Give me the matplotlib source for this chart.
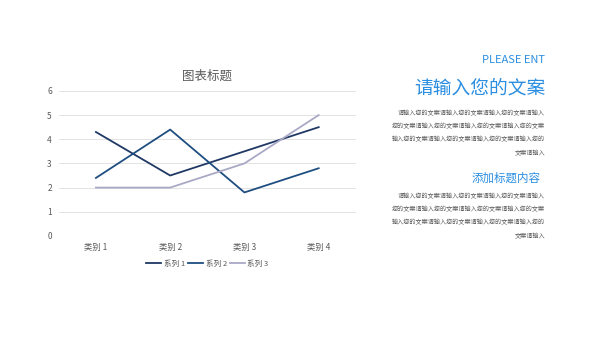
import matplotlib
matplotlib.use("Agg")
import matplotlib.pyplot as plt

plt.rcParams["font.family"] = ["Noto Sans CJK SC", "DejaVu Sans"]

categories = ["类别 1", "类别 2", "类别 3", "类别 4"]
series_names = ["系列 1", "系列 2", "系列 3"]
series_1 = [4.3, 2.5, 3.5, 4.5]
series_2 = [2.4, 4.4, 1.8, 2.8]
series_3 = [2.0, 2.0, 3.0, 5.0]

chart_title = "图表标题"
eng_title = "PLEASE ENT"
main_heading = "请输入您的文案"
sub_heading = "添加标题内容"
para_lines = [
    "请输入您的文案请输入您的文案请输入您的文案请输入",
    "您的文案请输入您的文案请输入您的文案请输入您的文案",
    "输入您的文案请输入您的文案请输入您的文案请输入您的",
    "文案请输入",
]

colors = ["#1f3864", "#1f4e80", "#a9a9c6"]
blue = "#2b8ee0"
text_gray = "#595959"


def main():
    fig = plt.figure(figsize=(6, 3.38), dpi=100)
    ax = fig.add_axes([0.098, 0.302, 0.495, 0.429])

    x = range(len(categories))
    for vals, name, c in zip([series_1, series_2, series_3], series_names, colors):
        ax.plot(x, vals, color=c, linewidth=1.3, label=name)

    ax.set_xlim(-0.5, len(categories) - 0.5)
    ax.set_ylim(0, 6)
    ax.set_yticks(range(0, 7))
    ax.set_xticks(list(x))
    ax.set_xticklabels(categories)
    ax.tick_params(axis="both", length=0, labelsize=6, colors=text_gray)
    ax.tick_params(axis="y", pad=5)
    ax.tick_params(axis="x", pad=5)
    ax.grid(axis="y", color="#e3e3e3", linewidth=0.7)
    ax.set_axisbelow(True)
    for s in ax.spines.values():
        s.set_visible(False)

    ax.set_title(chart_title, fontsize=9, color=text_gray, pad=8)

    ax.legend(loc="upper center", bbox_to_anchor=(0.5, -0.115), ncol=3,
              frameon=False, fontsize=5.5, handlelength=2.0, columnspacing=0.4,
              handletextpad=0.3, labelcolor=text_gray)

    # right side text block
    rx = 545 / 600
    fig.text(rx, 1 - 60 / 338, eng_title, ha="right", va="center",
             fontsize=8, color=blue)
    fig.text(rx, 1 - 88 / 338, main_heading, ha="right", va="center",
             fontsize=13.5, color=blue)
    for i, line in enumerate(para_lines):
        fig.text(rx, 1 - (113 + i * 13.3) / 338, line, ha="right", va="center",
                 fontsize=4.4, color=text_gray)
    fig.text(541 / 600, 1 - 178 / 338, sub_heading, ha="right", va="center",
             fontsize=8.3, color=blue)
    for i, line in enumerate(para_lines):
        fig.text(rx, 1 - (196 + i * 13.3) / 338, line, ha="right", va="center",
                 fontsize=4.4, color=text_gray)

    fig.savefig("out.png", dpi=100, facecolor="white")


if __name__ == "__main__":
    main()
